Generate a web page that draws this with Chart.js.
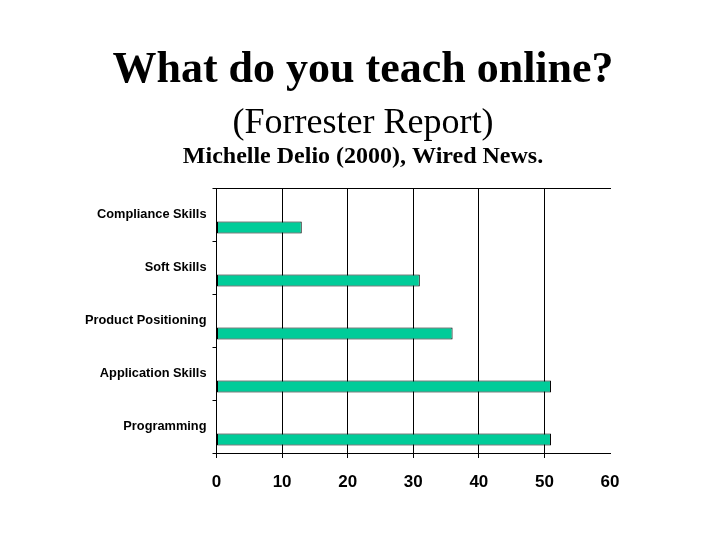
<!DOCTYPE html>
<html>
<head>
<meta charset="utf-8">
<script src="https://cdn.jsdelivr.net/npm/chart.js@4"></script>
<style>
  body { margin: 0; background: #fff; }
  #wrap { width: 720px; height: 540px; }
</style>
</head>
<body>
<div id="wrap"><canvas id="teachOnline"></canvas></div>
<script>
// slide heading
const titleLines = ['What do you teach online?', '(Forrester Report)', 'Michelle Delio (2000), Wired News.'];

// chart data
const categories = ['Compliance Skills', 'Soft Skills', 'Product Positioning', 'Application Skills', 'Programming'];
const percentages = [13, 31, 36, 51, 51];
const xMin = 0, xMax = 60, xStep = 10;

let teachOnline = document.getElementById("teachOnline");

// draws the three heading lines of the slide
const slideTitles = {
  id: 'slideTitles',
  afterDraw(chart) {
    const ctx = chart.ctx;
    ctx.save();
    ctx.fillStyle = '#000';
    ctx.textAlign = 'center';
    ctx.textBaseline = 'alphabetic';
    ctx.font = 'bold 44px "Liberation Serif"';
    ctx.fillText(titleLines[0], 363, 82);
    ctx.font = '36px "Liberation Serif"';
    ctx.fillText(titleLines[1], 363, 133);
    ctx.font = 'bold 24px "Liberation Serif"';
    ctx.fillText(titleLines[2], 363, 163);
    ctx.restore();
  }
};

const dataTeachOnline = {
  labels: categories,
  datasets: [
    {
      // empty slot so the bar sits in the lower half of each band
      label: '',
      data: [],
    },
    {
      label: 'Percent',
      data: percentages,
      backgroundColor: '#00CC99',
      borderColor: '#000',
      borderWidth: 1,
      borderSkipped: false,
    },
  ]
};

const configTeachOnline = {
  type: 'bar',
  data: dataTeachOnline,
  options: {
    indexAxis: 'y',
    responsive: true,
    maintainAspectRatio: false,
    animation: false,
    categoryPercentage: 0.98,
    barPercentage: 0.46,
    layout: {
      padding: { top: 188, right: 110, left: 0, bottom: 0 }
    },
    plugins: {
      legend: { display: false },
      tooltip: { enabled: false },
      title: { display: false }
    },
    scales: {
      x: {
        type: 'linear',
        min: xMin,
        max: xMax,
        ticks: {
          stepSize: xStep,
          color: '#000',
          padding: 14,
          font: { family: '"Liberation Sans"', size: 17, weight: 'bold' }
        },
        grid: {
          color: (c) => (c.tick && c.tick.value === xMax) ? 'rgba(0,0,0,0)' : '#000',
          lineWidth: 1,
          tickLength: 5
        },
        border: { display: true, color: '#000', width: 1 },
        afterFit(scale) { scale.height = 87; }
      },
      xTop: {
        type: 'linear',
        position: 'top',
        min: xMin,
        max: xMax,
        ticks: { display: false },
        grid: { display: false },
        border: { display: true, color: '#000', width: 1 },
        afterFit(scale) { scale.height = 0; }
      },
      y: {
        ticks: {
          color: '#000',
          padding: 6,
          font: { family: '"Liberation Sans"', size: 12.8, weight: 'bold' }
        },
        grid: {
          offset: true,
          drawOnChartArea: false,
          color: '#000',
          tickLength: 4
        },
        border: { display: true, color: '#000', width: 1 },
        afterFit(scale) { scale.width = 216.5; }
      }
    }
  },
  plugins: [slideTitles]
};

let teachOnlineGraph = new Chart(teachOnline, configTeachOnline);
</script>
</body>
</html>
